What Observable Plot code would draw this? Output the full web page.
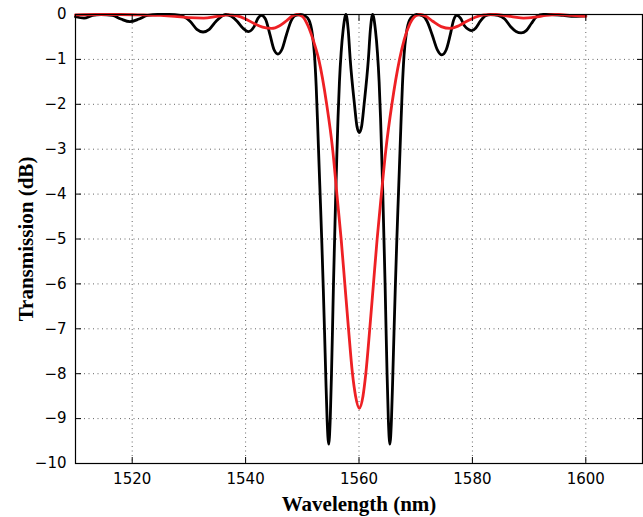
<!DOCTYPE html>
<html>
<head>
<meta charset="utf-8">
<script src="https://cdn.jsdelivr.net/npm/d3@7"></script>
<script src="https://cdn.jsdelivr.net/npm/@observablehq/plot@0.6"></script>
<style>
  html, body { margin: 0; padding: 0; background: #fff; }
  #chart svg { display: block; }
  g[aria-label="x-axis label"] text, g[aria-label="y-axis label"] text {
    font-family: "Liberation Serif", "DejaVu Serif", serif;
    font-weight: bold;
    font-size: 21px;
    fill: #000;
  }
</style>
</head>
<body>
<div id="chart"></div>
<script>
// Tick values
const xTicks = [1520, 1540, 1560, 1580, 1600];
const yTicks = [-10, -9, -8, -7, -6, -5, -4, -3, -2, -1, 0];

// Black curve (wavelength nm, transmission dB)
const blackWl = [1510, 1511.5, 1513, 1514.5, 1516.5, 1518, 1519.6, 1521.2, 1522.7, 1524.5, 1526.5,
  1528.5, 1530.2, 1531.4, 1532.5, 1533.6, 1534.8, 1536.5, 1537.5, 1538.5, 1539.5, 1540.5, 1541.5,
  1542.2, 1542.8, 1543.5, 1544.3, 1545.0, 1545.7, 1546.4, 1547.2, 1548.0, 1548.8, 1549.65,
  1550.5, 1551.2, 1551.75, 1552.15, 1552.45, 1552.72, 1552.97, 1553.2, 1553.45, 1553.7, 1553.93, 1554.15,
  1554.37, 1554.65, 1554.93, 1555.15, 1555.33, 1555.5, 1555.7, 1555.9, 1556.1, 1556.3, 1556.55, 1556.85,
  1557.2, 1557.7, 1558.1, 1558.45, 1559.2, 1559.65, 1560.05, 1560.45, 1560.9, 1561.65, 1562.0,
  1562.4, 1562.9, 1563.25, 1563.55, 1563.8, 1564.0, 1564.2, 1564.4, 1564.6, 1564.77, 1564.95, 1565.17,
  1565.45, 1565.73, 1565.95, 1566.17, 1566.4, 1566.65, 1566.9, 1567.13, 1567.38, 1567.65, 1567.95, 1568.35,
  1568.9, 1569.6, 1570.2, 1571.2, 1572.0, 1572.9, 1573.8, 1574.6, 1575.4, 1576.1, 1576.7, 1577.25,
  1577.9, 1578.6, 1579.3, 1579.9, 1580.6, 1581.4, 1582.3, 1583.2, 1584.5, 1585.7, 1586.8, 1587.7,
  1588.6, 1589.5, 1590.4, 1591.3, 1592.5, 1594, 1596, 1598, 1600];
const blackDb = [-0.05, -0.08, -0.02, 0, -0.02, -0.1, -0.16, -0.1, -0.02, 0, 0,
  -0.02, -0.15, -0.33, -0.39, -0.33, -0.15, 0, -0.04, -0.15, -0.3, -0.38, -0.27,
  -0.08, -0.02, -0.1, -0.45, -0.78, -0.88, -0.78, -0.45, -0.15, -0.02, 0,
  -0.03, -0.13, -0.42, -0.9, -1.6, -2.5, -3.4, -4.2, -5.1, -6.1, -7.1, -8.1,
  -9.0, -9.57, -9.0, -8.0, -7.0, -6.0, -5.0, -4.0, -3.1, -2.3, -1.5, -0.85,
  -0.35, 0, -0.35, -1.0, -2.0, -2.5, -2.63, -2.5, -2.0, -1.0, -0.35,
  0, -0.35, -0.85, -1.5, -2.3, -3.1, -4.0, -5.0, -6.0, -7.0, -8.0, -9.0,
  -9.57, -9.0, -8.1, -7.1, -6.1, -5.1, -4.2, -3.4, -2.5, -1.6, -0.9, -0.42,
  -0.13, -0.03, 0, -0.03, -0.15, -0.45, -0.78, -0.9, -0.78, -0.45, -0.12, -0.02,
  -0.08, -0.25, -0.33, -0.36, -0.3, -0.15, -0.03, 0, -0.02, -0.1, -0.28, -0.38,
  -0.41, -0.36, -0.2, -0.05, 0, 0, -0.02, -0.04, -0.03];

// Red curve
const redWl = [1510, 1514, 1518, 1522, 1525, 1527.5, 1530, 1532.6, 1535, 1537, 1538.5, 1540, 1541.5,
  1543, 1544.6, 1546, 1547.3, 1548.3, 1549.1, 1550, 1551, 1552, 1552.9, 1554.3, 1555.35, 1556.1,
  1556.85, 1557.5, 1558.15, 1558.85, 1559.4, 1560.05, 1560.7, 1561.2, 1561.9, 1562.55, 1563.2,
  1563.95, 1564.75, 1565.8, 1567.15, 1568.0, 1569.0, 1570.0, 1570.8, 1571.8, 1573, 1574.5, 1576.1,
  1577.6, 1579, 1580.5, 1582, 1584, 1586, 1587.5, 1589, 1591, 1593, 1595, 1597.5, 1600];
const redDb = [-0.01, 0, 0, -0.01, -0.02, -0.04, -0.07, -0.08, -0.04, -0.01, -0.03, -0.1, -0.2,
  -0.28, -0.31, -0.25, -0.13, -0.03, 0, -0.04, -0.25, -0.6, -1.0, -2.0, -3.0, -4.0,
  -5.0, -6.0, -7.0, -8.0, -8.5, -8.77, -8.5, -8.0, -7.0, -6.0, -5.0,
  -4.0, -3.0, -2.0, -1.0, -0.55, -0.2, -0.03, 0, -0.04, -0.15, -0.27, -0.31,
  -0.25, -0.15, -0.06, -0.01, 0, -0.03, -0.06, -0.08, -0.06, -0.02, 0, -0.02, -0.04];

const black = blackWl.map((w, i) => ({w, t: blackDb[i]}));
const red = redWl.map((w, i) => ({w, t: redDb[i]}));

const fmt = d => d < 0 ? "\u2212" + Math.abs(d) : String(d);
const gridStyle = {stroke: "#666", strokeOpacity: 1, strokeWidth: 1, strokeDasharray: "1,3.5"};

const chart = Plot.plot({
  width: 643,
  height: 517,
  marginLeft: 75,
  marginRight: 1,
  marginTop: 14,
  marginBottom: 54,
  style: {fontFamily: "'DejaVu Sans', sans-serif", fontSize: "15px", color: "#000", background: "#fff"},
  x: {domain: [1510, 1610]},
  y: {domain: [-10, 0]},
  marks: [
    Plot.gridX(xTicks, gridStyle),
    Plot.gridY(yTicks, gridStyle),
    Plot.line(black, {x: "w", y: "t", stroke: "#000", strokeWidth: 2.8, curve: "monotone-x"}),
    Plot.line(red, {x: "w", y: "t", stroke: "#ee2024", strokeWidth: 2.8, curve: "monotone-x"}),
    Plot.frame({stroke: "#000", strokeWidth: 1.2}),
    Plot.axisX(xTicks, {anchor: "bottom", tickSize: 0, tickPadding: 10, tickFormat: fmt,
      label: "Wavelength (nm)", labelAnchor: "center", labelOffset: 47, labelArrow: "none"}),
    Plot.axisX(xTicks, {anchor: "bottom", tickSize: -6, tickFormat: () => "", label: null}),
    Plot.axisX(xTicks, {anchor: "top", tickSize: -6, tickFormat: () => "", label: null}),
    Plot.axisY(yTicks, {anchor: "left", tickSize: 0, tickPadding: 9, tickFormat: fmt,
      label: "Transmission (dB)", labelAnchor: "center", labelOffset: 57, labelArrow: "none"}),
    Plot.axisY(yTicks, {anchor: "left", tickSize: -6, tickFormat: () => "", label: null}),
    Plot.axisY(yTicks, {anchor: "right", tickSize: -6, tickFormat: () => "", label: null})
  ]
});
document.getElementById("chart").append(chart);
</script>
</body>
</html>
